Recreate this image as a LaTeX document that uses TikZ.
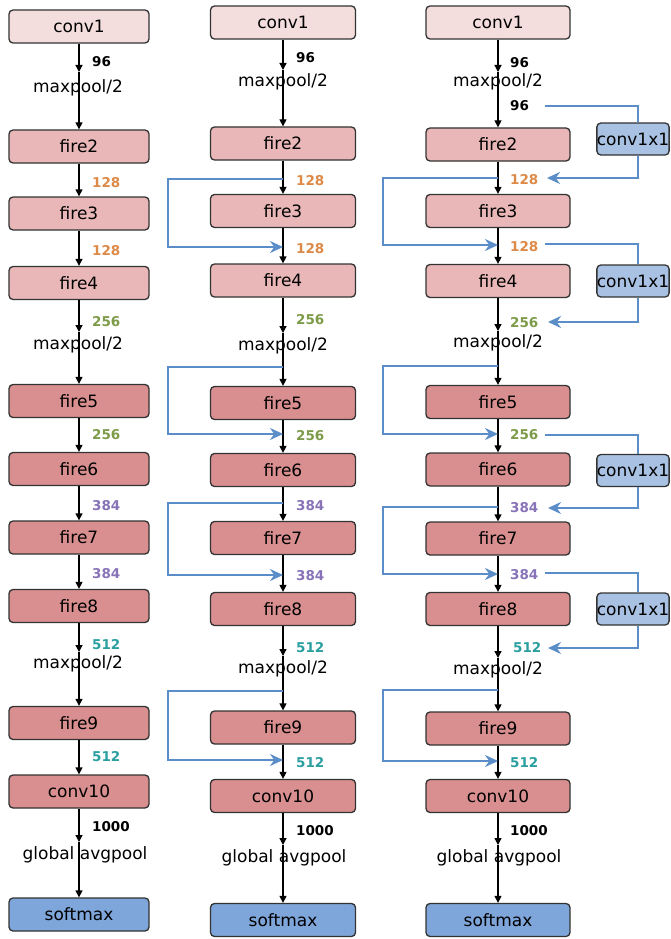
\documentclass[tikz,border=0pt]{standalone}
\usepackage{fontspec}
\newfontfamily\dv{DejaVu Sans}
\usetikzlibrary{arrows.meta}
\definecolor{pinkA}{HTML}{F4DDDD}
\definecolor{pinkB}{HTML}{E9B7B7}
\definecolor{pinkC}{HTML}{D98F8F}
\definecolor{blueS}{HTML}{7EA6DA}
\definecolor{blueC}{HTML}{A9C2E3}
\definecolor{boxline}{HTML}{333333}
\definecolor{skipblue}{HTML}{5B8EC8}
\definecolor{nOr}{HTML}{DD8A48}
\definecolor{nGr}{HTML}{7D9B48}
\definecolor{nPu}{HTML}{8873B8}
\definecolor{nTe}{HTML}{2A9FA0}
\begin{document}
\begin{tikzpicture}[x=1pt,y=-1pt,
  blk/.style={draw=boxline, line width=1.3pt, rounded corners=4pt, minimum height=33pt, inner sep=0pt, font=\dv\fontsize{17}{19}\selectfont},
  c1/.style={blk, fill=pinkA},
  fA/.style={blk, fill=pinkB},
  fB/.style={blk, fill=pinkC},
  sm/.style={blk, fill=blueS},
  cxx/.style={blk, fill=blueC, minimum width=72pt, minimum height=32pt},
  num/.style={font=\dv\bfseries\fontsize{13.5}{15}\selectfont, anchor=west, inner sep=0pt},
  lbl/.style={font=\dv\fontsize{17}{19}\selectfont, inner sep=0pt},
  flow/.style={draw=black, line width=1.3pt, -{Triangle[length=7pt,width=7pt]}},
  skip/.style={draw=skipblue, line width=1.8pt, -{Stealth[length=13pt,width=12pt]}},
  skipl/.style={draw=skipblue, line width=1.8pt}]
\fill[white] (0,0) rectangle (671,939);
\useasboundingbox (0,0) rectangle (671,939);

% ---------- column 1 boxes ----------
\foreach \n/\y/\s in {conv1/26.5/c1, fire2/146.5/fA, fire3/213.5/fA, fire4/283/fA, fire5/401/fB, fire6/469/fB, fire7/537.5/fB, fire8/606/fB, fire9/723/fB, conv10/791.5/fB, softmax/914.5/sm}
  \node[\s, minimum width=140pt] (a\n) at (79,\y) {\n};
% ---------- column 2 boxes ----------
\foreach \n/\y/\s in {conv1/22.5/c1, fire2/143.5/fA, fire3/211/fA, fire4/280.5/fA, fire5/403/fB, fire6/470/fB, fire7/538/fB, fire8/609/fB, fire9/727.5/fB, conv10/796/fB, softmax/920/sm}
  \node[\s, minimum width=145pt] (b\n) at (283,\y) {\n};
% ---------- column 3 boxes ----------
\foreach \n/\y/\s in {conv1/22.5/c1, fire2/144.5/fA, fire3/211/fA, fire4/281/fA, fire5/402/fB, fire6/469.5/fB, fire7/538.5/fB, fire8/609/fB, fire9/728.5/fB, conv10/796/fB, softmax/920/sm}
  \node[\s, minimum width=144pt] (c\n) at (498,\y) {\n};
% conv1x1 boxes
\node[cxx] (cx1) at (633,139) {conv1x1};
\node[cxx] (cx2) at (633,281) {conv1x1};
\node[cxx] (cx3) at (633,470.5) {conv1x1};
\node[cxx] (cx4) at (633,609) {conv1x1};

% ---------- direct chain connectors ----------
\foreach \c in {a,b,c}{
  \draw[flow] (\c fire2) -- (\c fire3);
  \draw[flow] (\c fire3) -- (\c fire4);
  \draw[flow] (\c fire5) -- (\c fire6);
  \draw[flow] (\c fire6) -- (\c fire7);
  \draw[flow] (\c fire7) -- (\c fire8);
  \draw[flow] (\c fire9) -- (\c conv10);
}

% ---------- pooling connectors (arrow tips above labels) ----------
\coordinate (at1) at (79,72);  \coordinate (at2) at (79,332);
\coordinate (at3) at (79,652); \coordinate (at4) at (79,842);
\coordinate (bt1) at (283,70);  \coordinate (bt2) at (283,333);
\coordinate (bt3) at (283,656); \coordinate (bt4) at (283,845);
\coordinate (ct1) at (498,72);  \coordinate (ct2) at (498,331);
\coordinate (ct3) at (498,658); \coordinate (ct4) at (498,845);
\foreach \c in {a,b,c}{
  \draw[flow] (\c conv1) -- (\c t1);  \draw[flow] (\c t1) -- (\c fire2);
  \draw[flow] (\c fire4) -- (\c t2);  \draw[flow] (\c t2) -- (\c fire5);
  \draw[flow] (\c fire8) -- (\c t3);  \draw[flow] (\c t3) -- (\c fire9);
  \draw[flow] (\c conv10) -- (\c t4); \draw[flow] (\c t4) -- (\c softmax);
}

% ---------- column 2 bypass connections ----------
\coordinate (bs1) at (283,179); \coordinate (be1) at (283,247);
\coordinate (bs2) at (283,367); \coordinate (be2) at (283,434);
\coordinate (bs3) at (283,503); \coordinate (be3) at (283,575);
\coordinate (bs4) at (283,691); \coordinate (be4) at (283,760);
\foreach \i in {1,2,3,4}
  \draw[skip] (bs\i) -- ++(-115,0) |- (be\i);

% ---------- column 3 bypass connections ----------
\coordinate (cs1) at (498,178); \coordinate (ce1) at (498,245);
\coordinate (cs2) at (498,366); \coordinate (ce2) at (498,434);
\coordinate (cs3) at (498,507); \coordinate (ce3) at (498,574);
\coordinate (cs4) at (498,690); \coordinate (ce4) at (498,761);
\foreach \i in {1,2,3,4}
  \draw[skip] (cs\i) -- ++(-115,0) |- (ce\i);

% conv1x1 bypasses
\coordinate (ks1) at (545,106); \coordinate (ke1) at (547,178);
\coordinate (ks2) at (545,244); \coordinate (ke2) at (548,322);
\coordinate (ks3) at (545,435); \coordinate (ke3) at (548,508);
\coordinate (ks4) at (545,573); \coordinate (ke4) at (548,648);
\foreach \i in {1,2,3,4}{
  \draw[skipl] (ks\i) -| ([xshift=5pt]cx\i.north);
  \draw[skip] ([xshift=5pt]cx\i.south) |- (ke\i);
}

% ---------- labels column 1 ----------
\node[num] (la1) at (92,62) {96};
\node[lbl] (lm1) at (78,88) {maxpool/2};
\node[num, text=nOr] (la2) at (92,183) {128};
\node[num, text=nOr] (la3) at (92,251) {128};
\node[num, text=nGr] (la4) at (92,322) {256};
\node[lbl] (lm2) at (78,345) {maxpool/2};
\node[num, text=nGr] (la5) at (92,435) {256};
\node[num, text=nPu] (la6) at (92,506) {384};
\node[num, text=nPu] (la7) at (92,574) {384};
\node[num, text=nTe] (la8) at (92,645) {512};
\node[lbl] (lm3) at (78,664) {maxpool/2};
\node[num, text=nTe] (la9) at (92,757) {512};
\node[num] (la10) at (92,827) {1000};
\node[lbl] (lm4) at (85,855) {global avgpool};

% ---------- labels column 2 ----------
\node[num] (lb1) at (296,58) {96};
\node[lbl] (lbm1) at (283,82) {maxpool/2};
\node[num, text=nOr] (lb2) at (296,181) {128};
\node[num, text=nOr] (lb3) at (296,249) {128};
\node[num, text=nGr] (lb4) at (296,320) {256};
\node[lbl] (lbm2) at (283,346) {maxpool/2};
\node[num, text=nGr] (lb5) at (296,436) {256};
\node[num, text=nPu] (lb6) at (296,506) {384};
\node[num, text=nPu] (lb7) at (296,576) {384};
\node[num, text=nTe] (lb8) at (296,648) {512};
\node[lbl] (lbm3) at (283,669) {maxpool/2};
\node[num, text=nTe] (lb9) at (296,763) {512};
\node[num] (lb10) at (296,831) {1000};
\node[lbl] (lbm4) at (284,858) {global avgpool};

% ---------- labels column 3 ----------
\node[num] (lc1) at (510,63) {96};
\node[lbl] (lcm1) at (498,82) {maxpool/2};
\node[num] (lc0) at (510,106) {96};
\node[num, text=nOr] (lc2) at (510,180) {128};
\node[num, text=nOr] (lc3) at (510,247) {128};
\node[num, text=nGr] (lc4) at (510,323) {256};
\node[lbl] (lcm2) at (498,343) {maxpool/2};
\node[num, text=nGr] (lc5) at (510,435) {256};
\node[num, text=nPu] (lc6) at (510,508) {384};
\node[num, text=nPu] (lc7) at (510,575) {384};
\node[num, text=nTe] (lc8) at (513,648) {512};
\node[lbl] (lcm3) at (498,670) {maxpool/2};
\node[num, text=nTe] (lc9) at (510,763) {512};
\node[num] (lc10) at (510,831) {1000};
\node[lbl] (lcm4) at (499,858) {global avgpool};
\end{tikzpicture}
\end{document}
